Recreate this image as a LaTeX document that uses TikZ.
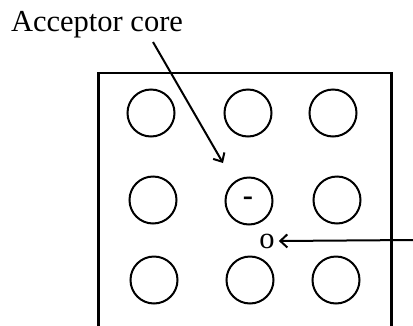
\documentclass[tikz,border=0pt]{standalone}
\usepackage{fontspec}
\setmainfont{Liberation Serif}
\usetikzlibrary{arrows.meta}
\tikzset{
  atom/.style={draw, circle, line width=2pt, minimum size=47pt, inner sep=0pt},
  lbl/.style={inner sep=0pt, font=\fontsize{30.5}{32}\selectfont},
  pointer/.style={line width=2pt, -{Straight Barb[length=7pt, width=13pt, line width=2pt]}}
}
\begin{document}
\begin{tikzpicture}[x=1pt, y=-1pt]
            \useasboundingbox (0,0) rectangle (413,325);
            % crystal block, open at the bottom
            \draw[line width=2.2pt] (98.5,326) -- (98.5,73) -- (391.5,73) -- (391.5,326);
            % lattice atoms
            \foreach \n/\x/\y in {11/151/113, 12/248/113, 13/333/113,
                                  21/153/200, 22/249/201, 23/337/200,
                                  31/154/280, 32/250/280, 33/336/280}
              \node[atom] (c\n) at (\x,\y) {};
            \node[lbl, font=\fontsize{30.5}{32}\selectfont\bfseries] (minus) at (248,201) {-};
            \node[lbl] (hole) at (267,241) {o};
            \node[lbl, anchor=base] (acc) at (97,31.5) {Acceptor core};
            \coordinate (accfoot) at (153,42);
            \coordinate (acctip) at (223,163);
            \coordinate (holefoot) at (413,240);
            \draw[pointer] (accfoot) -- (acctip);
            \draw[pointer] (holefoot) -- ([xshift=4pt]hole.east);
          \end{tikzpicture}
\end{document}
